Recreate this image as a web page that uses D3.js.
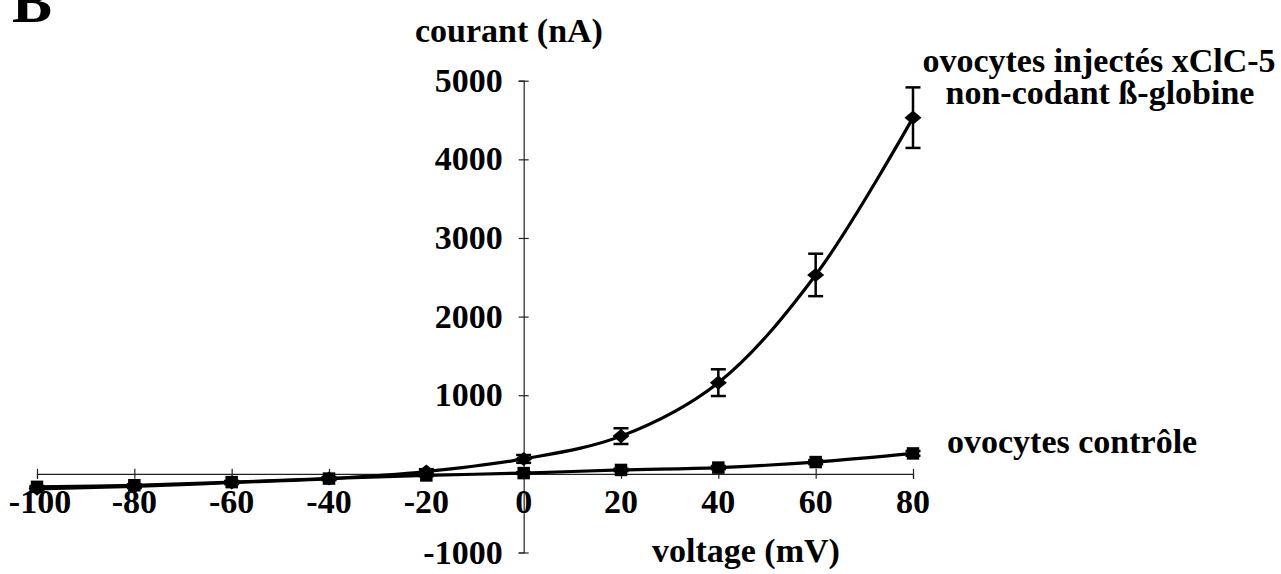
<!DOCTYPE html>
<html>
<head>
<meta charset="utf-8">
<script src="https://cdn.jsdelivr.net/npm/d3@7"></script>
<style>
  html, body { margin: 0; padding: 0; background: #fff; }
  svg { display: block; }
  text { font-family: "Liberation Serif", "Times New Roman", serif; font-weight: bold; fill: #000; }
</style>
</head>
<body>
<svg id="chart" width="1281" height="574"></svg>
<script>
// ---- data ----
const voltage = [-100, -80, -60, -40, -20, 0, 20, 40, 60, 80];
const injected = [-190, -160, -110, -60, 30, 190, 480, 1160, 2530, 4530];
const injectedErr = [20, 20, 20, 20, 30, 50, 100, 170, 270, 385];
const control = [-165, -145, -105, -60, -20, 10, 50, 80, 150, 260];
const controlErr = [10, 10, 10, 10, 10, 10, 15, 20, 25, 30];
const xTicks = [-100, -80, -60, -40, -20, 0, 20, 40, 60, 80];
const yTicks = [-1000, 0, 1000, 2000, 3000, 4000, 5000];
const yTickLabels = ["-1000", "", "1000", "2000", "3000", "4000", "5000"];
const panelLabel = "B";
const yTitle = "courant (nA)";
const xTitle = "voltage (mV)";
const injectedLabel = ["ovocytes injectés xClC-5", "non-codant ß-globine"];
const controlLabel = "ovocytes contrôle";

const svg = d3.select("#chart");
const x = d3.scaleLinear().domain([-100, 80]).range([37, 913]);
const y = d3.scaleLinear().domain([-1000, 5000]).range([552.5, 80.7]);
const FS = 34;

// axes
const xAxis = d3.axisBottom(x).tickValues(xTicks).tickSize(5).tickFormat("");
const gx = svg.append("g").attr("transform", `translate(0,${y(0)})`).call(xAxis);
gx.selectAll(".tick line").attr("y1", -5).attr("y2", 5);
const yAxis = d3.axisLeft(y).tickValues(yTicks.filter(v => v !== 0)).tickSize(5).tickFormat("");
const gy = svg.append("g").attr("transform", `translate(${x(0)},0)`).call(yAxis);
gy.selectAll(".tick line").attr("x1", -5).attr("x2", 5);
[gx, gy].forEach(g => {
  g.select(".domain").attr("stroke", "#222").attr("stroke-width", 1.2);
  g.selectAll(".tick line").attr("stroke", "#222").attr("stroke-width", 1.2);
});

// tick labels
svg.append("g").selectAll("text").data(xTicks).join("text")
  .attr("x", d => x(d) + (d === -100 ? 3 : 0)).attr("y", y(0) + 39)
  .attr("text-anchor", "middle").attr("font-size", FS)
  .text(d => d);
svg.append("g").selectAll("text").data(yTicks).join("text")
  .attr("x", x(0) - 21).attr("y", d => y(d) + 11)
  .attr("text-anchor", "end").attr("font-size", FS)
  .text((d, i) => yTickLabels[i]);

// titles
svg.append("text").attr("x", 12).attr("y", 22).attr("font-size", 60).text(panelLabel);
svg.append("text").attr("x", 415).attr("y", 42).attr("font-size", FS).text(yTitle);
svg.append("text").attr("x", 652).attr("y", 562).attr("font-size", FS).text(xTitle);
svg.append("text").attr("x", 1099).attr("y", 72).attr("text-anchor", "middle").attr("font-size", FS).text(injectedLabel[0]);
svg.append("text").attr("x", 1100).attr("y", 104).attr("text-anchor", "middle").attr("font-size", FS).text(injectedLabel[1]);
svg.append("text").attr("x", 947).attr("y", 453).attr("font-size", FS).text(controlLabel);

const line = d3.line().curve(d3.curveCatmullRom.alpha(0.5)).x(d => x(d.v)).y(d => y(d.c));

function drawSeries(vals, errs, marker) {
  const data = voltage.map((v, i) => ({ v, c: vals[i], e: errs[i] }));
  const g = svg.append("g");
  // error bars
  const eb = g.append("g").attr("stroke", "#000").attr("stroke-width", 2.5);
  data.forEach(d => {
    eb.append("line").attr("x1", x(d.v)).attr("x2", x(d.v)).attr("y1", y(d.c - d.e)).attr("y2", y(d.c + d.e));
    eb.append("line").attr("x1", x(d.v) - 7.5).attr("x2", x(d.v) + 7.5).attr("y1", y(d.c - d.e)).attr("y2", y(d.c - d.e));
    eb.append("line").attr("x1", x(d.v) - 7.5).attr("x2", x(d.v) + 7.5).attr("y1", y(d.c + d.e)).attr("y2", y(d.c + d.e));
  });
  g.append("path").datum(data).attr("d", line).attr("fill", "none").attr("stroke", "#000").attr("stroke-width", 3.2);
  if (marker === "diamond") {
    const sym = d3.symbol().type(d3.symbolDiamond2).size(140);
    g.selectAll("path.m").data(data).join("path").attr("class", "m")
      .attr("transform", d => `translate(${x(d.v)},${y(d.c)}) scale(1.15,0.95)`)
      .attr("d", sym).attr("fill", "#000");
  } else {
    const sym = d3.symbol().type(d3.symbolSquare).size(156);
    g.selectAll("path.m").data(data).join("path").attr("class", "m")
      .attr("transform", d => `translate(${x(d.v)},${y(d.c)})`)
      .attr("d", sym).attr("fill", "#000");
  }
}
drawSeries(injected, injectedErr, "diamond");
drawSeries(control, controlErr, "square");
</script>
</body>
</html>
